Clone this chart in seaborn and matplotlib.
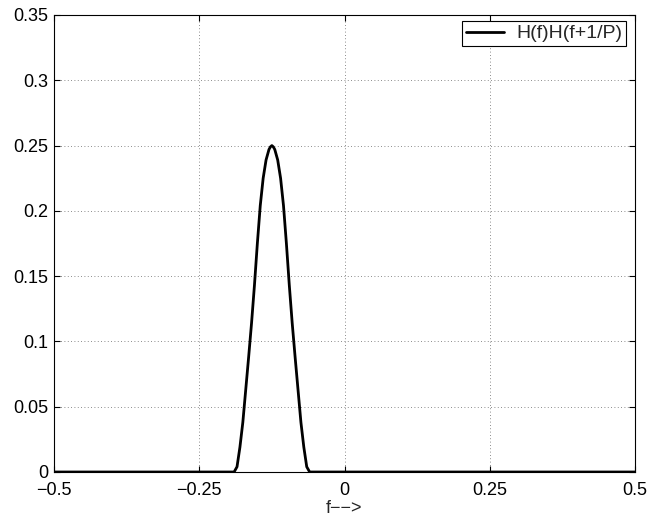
import matplotlib
matplotlib.use("Agg")
import matplotlib.pyplot as plt
import seaborn as sns
import pandas as pd

# Values
f_vals = [-0.5, -0.19, -0.185, -0.18, -0.175, -0.17, -0.165, -0.16, -0.155, -0.15,
          -0.145, -0.14, -0.135, -0.13, -0.1275, -0.125, -0.1225, -0.12, -0.115, -0.11,
          -0.105, -0.10, -0.095, -0.09, -0.085, -0.08, -0.075, -0.07, -0.065, -0.06, 0.5]
h_vals = [0.0, 0.0, 0.004, 0.019, 0.038, 0.063, 0.088, 0.114, 0.143, 0.175,
          0.204, 0.225, 0.239, 0.247, 0.249, 0.25, 0.249, 0.247, 0.239, 0.225,
          0.204, 0.175, 0.143, 0.114, 0.088, 0.063, 0.038, 0.019, 0.004, 0.0, 0.0]
x_ticks = [-0.5, -0.25, 0, 0.25, 0.5]
x_labels = ["\u22120.5", "\u22120.25", "0", "0.25", "0.5"]
y_ticks = [0, 0.05, 0.1, 0.15, 0.2, 0.25, 0.3, 0.35]
y_labels = ["0", "0.05", "0.1", "0.15", "0.2", "0.25", "0.3", "0.35"]
series_name = "H(f)H(f+1/P)"

sns.set_theme(style="white")
plt.rcParams["font.family"] = ["Liberation Sans", "DejaVu Sans"]
FS = 13

df = pd.DataFrame({"f": f_vals, "h": h_vals})

fig = plt.figure(figsize=(6.5, 5.16), dpi=100)
ax = fig.add_axes([54 / 650, 1 - 472 / 516, 581 / 650, 457 / 516])
sns.lineplot(data=df, x="f", y="h", sort=False, color="black", linewidth=2,
             label=series_name, ax=ax)

ax.set_xlim(-0.5, 0.5)
ax.set_ylim(0, 0.35)
ax.set_xticks(x_ticks)
ax.set_xticklabels(x_labels, fontsize=FS)
ax.set_yticks(y_ticks)
ax.set_yticklabels(y_labels, fontsize=FS)
ax.set_xlabel("f\u2212\u2212>", fontsize=FS, labelpad=1)
ax.set_ylabel("")

ax.grid(True, linestyle=(0, (1, 3)), color="#666666", linewidth=0.6)
ax.tick_params(axis="x", direction="in", length=4, width=0.8, top=True, bottom=True,
               colors="black", pad=7)
ax.tick_params(axis="y", direction="in", length=4, width=0.8, left=True, right=True,
               colors="black", pad=4)
for s in ax.spines.values():
    s.set_color("black")
    s.set_linewidth(0.8)

leg = ax.legend(loc="upper right", bbox_to_anchor=(626 / 650, 1 - 21 / 516),
                bbox_transform=fig.transFigure, borderaxespad=0,
                fontsize=14, frameon=True, fancybox=False,
                framealpha=1, edgecolor="black",
                handlelength=2.0, borderpad=0.2, handletextpad=0.6)
leg.get_frame().set_linewidth(0.8)

fig.savefig("out.png", dpi=100, facecolor="white")
